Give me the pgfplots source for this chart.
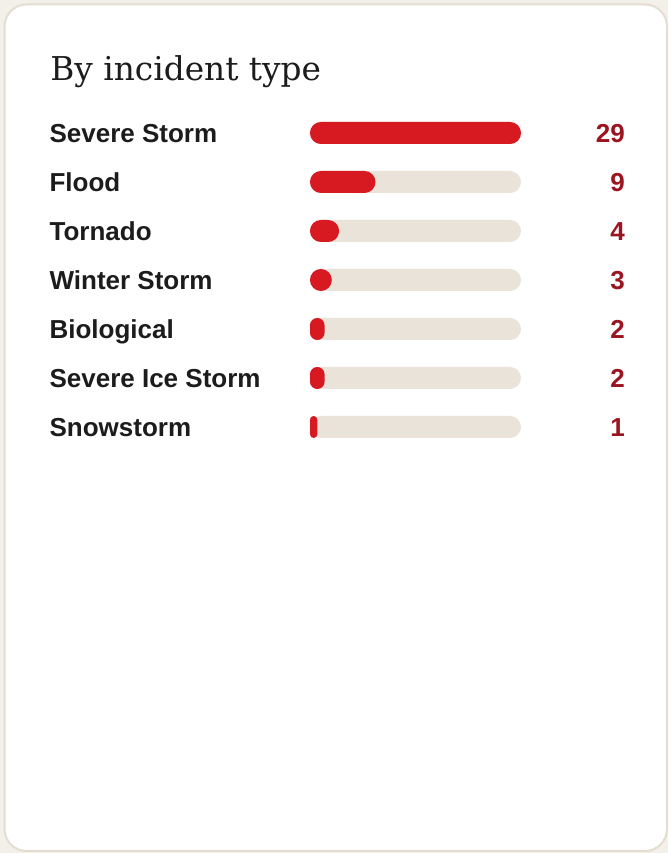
\documentclass[border=0pt]{standalone}
\usepackage{pgfplots}
\pgfplotsset{compat=1.18}
\usepackage{pgfplotstable}
\usepackage{fontspec}
\setmainfont{Liberation Sans}
\newfontfamily\titlefont{DejaVu Serif}
\definecolor{pagebg}{HTML}{F3F0EA}
\definecolor{cardborder}{HTML}{E4DED2}
\definecolor{track}{HTML}{EAE3DA}
\definecolor{barred}{HTML}{D71A21}
\definecolor{valred}{HTML}{9A1520}
\definecolor{labcol}{HTML}{1C1C1C}
\pgfplotstableread{
idx value full
0 29 29
1 9 29
2 4 29
3 3 29
4 2 29
5 2 29
6 1 29
}\incidents
\begin{document}
\begin{tikzpicture}[x=0.75pt,y=0.75pt]
\fill[pagebg] (0,0) rectangle (668,853);
\draw[cardborder, line width=1.5pt, fill=white, rounded corners=16.5pt] (4.5,2) rectangle (667,848.5);
\node[anchor=base west, inner sep=0, text=labcol, font=\titlefont\fontsize{24.6}{30}\selectfont] at (50,772) {By incident type};
\coordinate (A) at (310,744.5);
\begin{axis}[
  at={(A)}, anchor=north west,
  scale only axis, width=158.25pt, height=257.25pt,
  xmin=0, xmax=29, ymin=-0.5, ymax=6.5, y dir=reverse,
  clip=false,
  axis line style={draw=none}, tick style={draw=none},
  xtick=\empty,
  ytick={0,1,2,3,4,5,6},
  yticklabels={Severe Storm, Flood, Tornado, Winter Storm, Biological, Severe Ice Storm, Snowstorm},
  yticklabel style={anchor=base west, inner sep=0pt, xshift=-191.25pt, yshift=-7pt,
     font=\bfseries\fontsize{19.5}{22}\selectfont, text=labcol},
  xbar, bar width=16.5pt, bar shift=0pt,
]
\addplot[fill=track, draw=none, rounded corners=8.25pt,
  point meta=explicit symbolic,
  nodes near coords={\pgfplotspointmeta},
  nodes near coords style={anchor=base east, inner sep=0pt, xshift=78pt, yshift=-7pt,
     font=\bfseries\fontsize{19.5}{22}\selectfont, text=valred},
] table[x=full, y=idx, meta=value] {\incidents};
\addplot[fill=barred, draw=none, rounded corners=8.2pt, restrict x to domain=2.5:40] table[x=value, y=idx] {\incidents};
\addplot[fill=barred, draw=none, rounded corners=5.4pt, restrict x to domain=1.5:2.5] table[x=value, y=idx] {\incidents};
\addplot[fill=barred, draw=none, rounded corners=2.7pt, restrict x to domain=0.5:1.5] table[x=value, y=idx] {\incidents};
\end{axis}
\end{tikzpicture}
\end{document}
